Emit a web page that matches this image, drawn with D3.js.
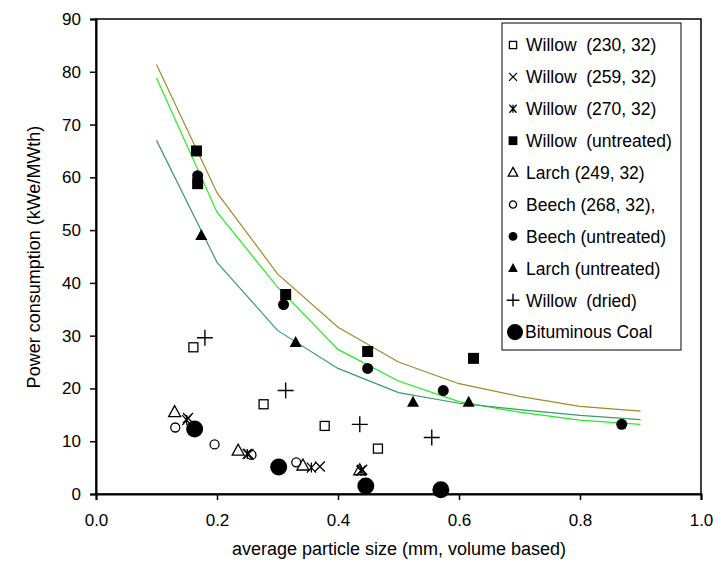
<!DOCTYPE html>
<html><head><meta charset="utf-8">
<script src="https://cdn.jsdelivr.net/npm/d3@7"></script>
<style>
body{margin:0;background:#fff;}
text{font-family:"Liberation Sans",Arial,sans-serif;fill:#000;}
</style></head>
<body><svg id="c" width="715" height="567"></svg>
<script>
// ---- data ----
const willow230 = [[0.161,27.8],[0.277,17.0],[0.378,12.9],[0.466,8.6]];
const willow259 = [[0.152,14.4],[0.252,7.6],[0.370,5.2],[0.440,4.6]];
const willow270 = [[0.150,14.0],[0.250,7.6],[0.356,5.0],[0.438,4.4]];
const willowUntreated = [[0.166,65.0],[0.168,58.8],[0.3135,37.8],[0.449,27.0],[0.624,25.7]];
const larch249 = [[0.130,15.5],[0.235,8.2],[0.342,5.4],[0.436,4.5]];
const beech268 = [[0.131,12.6],[0.196,9.4],[0.257,7.4],[0.331,6.0]];
const beechUntreated = [[0.168,60.3],[0.310,35.9],[0.449,23.8],[0.574,19.6],[0.869,13.2]];
const larchUntreated = [[0.174,49.0],[0.330,28.7],[0.524,17.4],[0.616,17.4]];
const willowDried = [[0.180,29.6],[0.3135,19.6],[0.436,13.2],[0.555,10.7]];
const coal = [[0.163,12.3],[0.302,5.1],[0.446,1.5],[0.570,0.8]];

const curveX = [0.1,0.2,0.3,0.4,0.5,0.6,0.7,0.8,0.9];
const curveOlive = [81.4,57.1,41.7,31.6,25.0,20.9,18.5,16.6,15.7];
const curveGreen = [78.8,53.4,39.2,27.4,21.4,17.5,15.5,14.0,13.2];
const curveTeal  = [67.0,43.9,31.0,23.8,19.2,17.2,16.0,14.9,14.1];

const xTicks = [0,0.2,0.4,0.6,0.8,1.0];
const yTicks = [0,10,20,30,40,50,60,70,80,90];

const seriesNames = ["Willow  (230, 32)","Willow  (259, 32)","Willow  (270, 32)","Willow  (untreated)","Larch (249, 32)","Beech (268, 32),","Beech (untreated)","Larch (untreated)","Willow  (dried)","Bituminous Coal"];
const seriesData = [willow230,willow259,willow270,willowUntreated,larch249,beech268,beechUntreated,larchUntreated,willowDried,coal];
const seriesMarker = ["sqOpen","x","star","sqFill","triOpen","circOpen","circFill","triFill","plus","coal"];

// ---- layout ----
const svg = d3.select("#c");
const L=96,R=701,T=19,B=494;
const x = d3.scaleLinear().domain([0,1]).range([L,R]);
const y = d3.scaleLinear().domain([0,90]).range([B,T]);

// curves
const line = d3.line().x(d=>x(d[0])).y(d=>y(d[1]));
[[curveOlive,"#a08a28"],[curveGreen,"#22ee22"],[curveTeal,"#3a9a70"]].forEach(([vals,col])=>{
  svg.append("path").datum(curveX.map((v,i)=>[v,vals[i]]))
    .attr("d",line).attr("fill","none").attr("stroke",col).attr("stroke-width",1.2);
});

// marker drawing
function marker(g,type,s){
  switch(type){
    case "sqOpen": g.append("rect").attr("x",-4.5*s).attr("y",-4.5*s).attr("width",9*s).attr("height",9*s).attr("fill","#fff").attr("stroke","#000").attr("stroke-width",1.3); break;
    case "sqFill": g.append("rect").attr("x",-5.5*s).attr("y",-5.5*s).attr("width",11*s).attr("height",11*s).attr("fill","#000"); break;
    case "x": g.append("path").attr("d",`M${-5*s},${-5*s}L${5*s},${5*s}M${-5*s},${5*s}L${5*s},${-5*s}`).attr("stroke","#000").attr("stroke-width",1.3).attr("fill","none"); break;
    case "star": g.append("path").attr("d",`M${-4.5*s},${-5*s}L${4.5*s},${5*s}M${-4.5*s},${5*s}L${4.5*s},${-5*s}M0,${-5*s}L0,${5*s}`).attr("stroke","#000").attr("stroke-width",1.3).attr("fill","none"); break;
    case "triOpen": g.append("path").attr("d",`M0,${-6.5*s}L${6*s},${4.5*s}L${-6*s},${4.5*s}Z`).attr("fill","none").attr("stroke","#000").attr("stroke-width",1.3); break;
    case "triFill": g.append("path").attr("d",`M0,${-6.5*s}L${6*s},${4.5*s}L${-6*s},${4.5*s}Z`).attr("fill","#000"); break;
    case "circOpen": g.append("circle").attr("r",4.5*s).attr("fill","none").attr("stroke","#000").attr("stroke-width",1.3); break;
    case "circFill": g.append("circle").attr("r",5.5*s).attr("fill","#000"); break;
    case "plus": g.append("path").attr("d",`M${-8*s},0L${8*s},0M0,${-8*s}L0,${8*s}`).attr("stroke","#000").attr("stroke-width",1.4).attr("fill","none"); break;
    case "coal": g.append("circle").attr("r",8.5*s).attr("fill","#000"); break;
  }
}

seriesData.forEach((data,i)=>{
  data.forEach(d=>{
    const g = svg.append("g").attr("transform",`translate(${x(d[0])},${y(d[1])})`);
    marker(g,seriesMarker[i],1);
  });
});

// frame
svg.append("rect").attr("x",L).attr("y",T).attr("width",R-L).attr("height",B-T)
  .attr("fill","none").attr("stroke","#000").attr("stroke-width",1.5);

// axes
const xAxis = svg.append("g").attr("transform",`translate(0,${B})`)
  .call(d3.axisBottom(x).tickValues(xTicks).tickFormat(d3.format(".1f")).tickSize(6).tickPadding(14));
const yAxis = svg.append("g").attr("transform",`translate(${L},0)`)
  .call(d3.axisLeft(y).tickValues(yTicks).tickFormat(d3.format("d")).tickSize(6).tickPadding(9));
[xAxis,yAxis].forEach(a=>{
  a.select(".domain").attr("stroke","#000").attr("stroke-width",2);
  a.selectAll(".tick line").attr("stroke","#000").attr("stroke-width",1.5);
  a.selectAll("text").attr("font-size",17).style("font-family","'Liberation Sans',Arial,sans-serif");
});

// axis titles
svg.append("text").attr("x",399).attr("y",555).attr("text-anchor","middle").attr("font-size",18)
  .text("average particle size (mm, volume based)");
svg.append("text").attr("transform","translate(40,257) rotate(-90)").attr("text-anchor","middle").attr("font-size",18)
  .text("Power consumption (kWe/MWth)");

// legend
const lg = svg.append("g");
lg.append("rect").attr("x",502).attr("y",23).attr("width",179).attr("height",327)
  .attr("fill","#fff").attr("stroke","#000").attr("stroke-width",1);
seriesNames.forEach((n,i)=>{
  const cy = 45 + i*31.9;
  const isCoal = seriesMarker[i]==="coal";
  const g = lg.append("g").attr("transform",`translate(${isCoal?515:513},${cy})`);
  marker(g,seriesMarker[i],isCoal?0.95:0.8);
  lg.append("text").attr("x",isCoal?525:526).attr("y",cy).attr("dy","0.36em")
    .attr("font-size",17.5).style("white-space","pre").text(n);
});
</script></body></html>
